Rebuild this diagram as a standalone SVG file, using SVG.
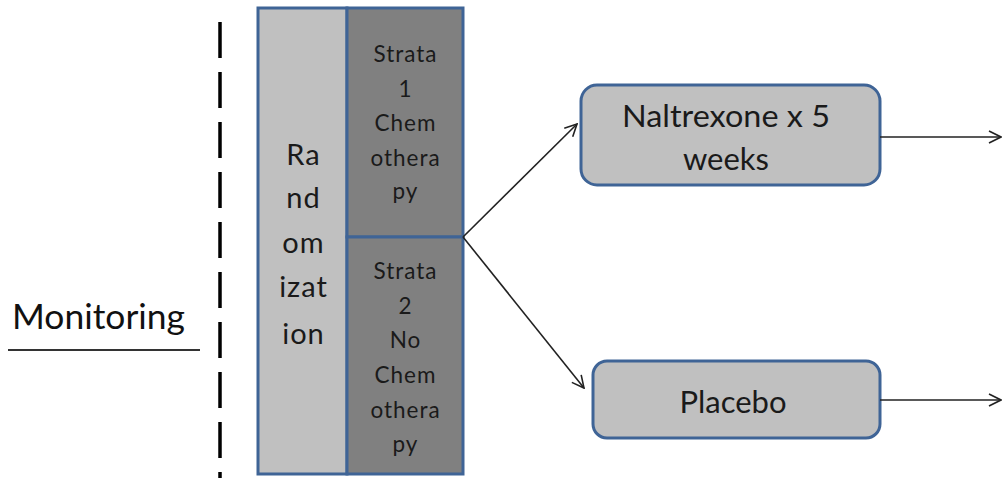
<svg xmlns="http://www.w3.org/2000/svg" width="1005" height="478" viewBox="0 0 1005 478">
<defs>
<style>
.box{stroke:#3f6496;stroke-width:3}
.t{font-family:Lato,"Open Sans",sans-serif;fill:#1a1a1a;text-anchor:middle}
.conn{stroke:#222;stroke-width:1.6;fill:none}
</style>
<marker id="ah" viewBox="0 0 14 14" refX="13" refY="7" markerWidth="14" markerHeight="14" markerUnits="userSpaceOnUse" orient="auto">
<path d="M1,1 L13,7 L1,13" fill="none" stroke="#222" stroke-width="1.6"/>
</marker>
<filter id="sh" x="-10%" y="-200%" width="120%" height="500%">
<feGaussianBlur stdDeviation="1.5"/>
</filter>
</defs>
<rect width="1005" height="478" fill="#fff"/>
<g id="monitoring">
<text x="12" y="329" font-family="Lato,'Liberation Sans',sans-serif" font-size="34" fill="#111" textLength="173" lengthAdjust="spacingAndGlyphs">Monitoring</text>
<line x1="8" y1="353" x2="200" y2="353" stroke="#999" stroke-width="3" filter="url(#sh)"/>
<line x1="8" y1="350" x2="200" y2="350" stroke="#333" stroke-width="2"/>
</g>
<g id="divider">
<line x1="220" y1="22" x2="220" y2="478" stroke="#000" stroke-width="3.5" stroke-dasharray="36 14"/>
</g>
<g id="randomization">
<rect class="box" x="258" y="8" width="89" height="466" fill="#c0c0c0"/>
<text class="t" font-size="29" letter-spacing="1"><tspan x="303.5" y="165">Ra</tspan><tspan x="303.5" y="208">nd</tspan><tspan x="303.5" y="253">om</tspan><tspan x="303.5" y="297">izat</tspan><tspan x="303.5" y="344">ion</tspan></text>
</g>
<g id="strata1">
<rect class="box" x="347" y="8" width="116" height="229" fill="#808080"/>
<text class="t" font-size="22.5" letter-spacing="1"><tspan x="405.5" y="62">Strata</tspan><tspan x="405.5" y="97">1</tspan><tspan x="405.5" y="131">Chem</tspan><tspan x="405.5" y="166">othera</tspan><tspan x="405.5" y="199">py</tspan></text>
</g>
<g id="strata2">
<rect class="box" x="347" y="237" width="116" height="237" fill="#808080"/>
<text class="t" font-size="22.5" letter-spacing="1"><tspan x="405.5" y="279">Strata</tspan><tspan x="405.5" y="314">2</tspan><tspan x="405.5" y="348">No</tspan><tspan x="405.5" y="383">Chem</tspan><tspan x="405.5" y="418">othera</tspan><tspan x="405.5" y="452">py</tspan></text>
</g>
<g id="naltrexone">
<rect class="box" x="581" y="85" width="299" height="100" rx="16" fill="#c0c0c0"/>
<text class="t" font-size="31"><tspan x="726" y="127" textLength="208" lengthAdjust="spacingAndGlyphs">Naltrexone x 5</tspan><tspan x="726" y="170">weeks</tspan></text>
</g>
<g id="placebo">
<rect class="box" x="593" y="361" width="287" height="77" rx="14" fill="#c0c0c0"/>
<text class="t" font-size="31" x="733" y="413">Placebo</text>
</g>
<g id="connectors">
<line class="conn" x1="463" y1="237" x2="577" y2="124" marker-end="url(#ah)"/>
<line class="conn" x1="463" y1="237" x2="584" y2="388" marker-end="url(#ah)"/>
<line class="conn" x1="880" y1="137" x2="1001" y2="137" marker-end="url(#ah)"/>
<line class="conn" x1="880" y1="400" x2="1001" y2="400" marker-end="url(#ah)"/>
</g>
</svg>
